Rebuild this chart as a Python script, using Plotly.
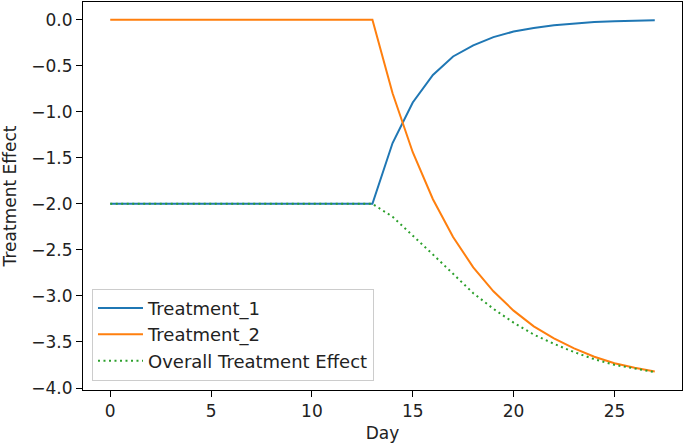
import plotly.graph_objects as go

days = list(range(28))
treatment_1 = [-2.0] * 14 + [-1.34, -0.90, -0.60, -0.40, -0.28, -0.19, -0.13, -0.09,
                             -0.06, -0.04, -0.027, -0.018, -0.012, -0.008]
treatment_2 = [0.0] * 14 + [-0.80, -1.44, -1.95, -2.36, -2.69, -2.95, -3.16, -3.33,
                            -3.46, -3.57, -3.66, -3.73, -3.78, -3.82]
overall = [-2.0] * 14 + [-2.14, -2.34, -2.55, -2.76, -2.97, -3.14, -3.29, -3.42,
                         -3.52, -3.61, -3.687, -3.748, -3.792, -3.828]

x_ticks = [0, 5, 10, 15, 20, 25]
y_ticks = [0.0, -0.5, -1.0, -1.5, -2.0, -2.5, -3.0, -3.5, -4.0]

FONT = "DejaVu Sans"
TXT = "#222222"

fig = go.Figure()
fig.add_trace(go.Scatter(x=days, y=treatment_1, mode="lines", name="Treatment_1",
                         line=dict(color="#1f77b4", width=2)))
fig.add_trace(go.Scatter(x=days, y=treatment_2, mode="lines", name="Treatment_2",
                         line=dict(color="#ff7f0e", width=2)))
fig.add_trace(go.Scatter(x=days, y=overall, mode="lines", name="Overall Treatment Effect",
                         line=dict(color="#2ca02c", width=2, dash="2px,3.5px")))

axis_common = dict(showgrid=False, zeroline=False, showline=True, linecolor="black",
                   linewidth=1, mirror=True, ticks="outside", ticklen=6, tickwidth=1,
                   tickcolor="black", automargin=False,
                   tickfont=dict(family=FONT, size=17, color=TXT))

fig.update_layout(
    width=685, height=446,
    margin=dict(l=83, r=3, t=2, b=56),
    paper_bgcolor="white", plot_bgcolor="white",
    font=dict(family=FONT, size=17, color=TXT),
    showlegend=True,
    legend=dict(x=0.015, y=0.024, xanchor="left", yanchor="bottom",
                bgcolor="rgba(255,255,255,0.8)", bordercolor="#cccccc", borderwidth=1,
                itemwidth=45,
                font=dict(family=FONT, size=18, color=TXT), tracegroupgap=0),
    xaxis=dict(range=[-1.35, 28.35], tickvals=x_ticks,
               title=dict(text="Day", font=dict(family=FONT, size=17, color=TXT), standoff=6),
               **axis_common),
    yaxis=dict(range=[-4.0214, 0.1914], tickvals=y_ticks, tickformat=".1f",
               title=dict(text="Treatment Effect", font=dict(family=FONT, size=17, color=TXT), standoff=12),
               **axis_common),
)

fig.write_html("out.html",
               config={"displayModeBar": False},
               post_script="document.body.style.margin='0';document.body.style.padding='0';")
